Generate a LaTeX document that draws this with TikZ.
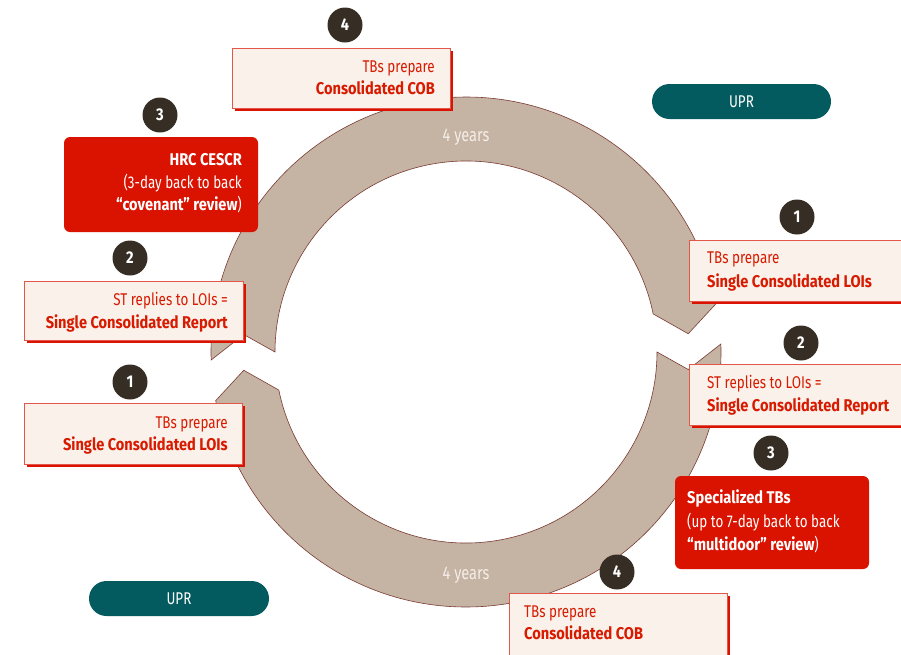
\documentclass[tikz,border=0pt]{standalone}
\usepackage{fontspec}
\setmainfont{Fira Sans}[UprightFeatures={FakeStretch=0.79}, BoldFeatures={FakeStretch=0.86}]
\usetikzlibrary{shadows}
\definecolor{bandfill}{HTML}{C5B3A3}
\definecolor{bandline}{HTML}{7B3B33}
\definecolor{cream}{HTML}{FAF1EA}
\definecolor{textred}{HTML}{D71A00}
\definecolor{boxred}{HTML}{DA1200}
\definecolor{boxedge}{HTML}{E2574A}
\definecolor{teal}{HTML}{045B5F}
\definecolor{numdark}{HTML}{362E24}
\definecolor{yrs}{HTML}{F5EEE8}
\begin{document}
\begin{tikzpicture}[x=1pt,y=1pt,
  bandstyle/.style={fill=bandfill, draw=bandline, line width=0.6pt},
  cbox/.style={draw=boxedge, line width=0.8pt, fill=cream, inner sep=0pt,
    drop shadow={shadow xshift=3pt, shadow yshift=-3pt, fill=boxred, opacity=1}},
  rbox/.style={fill=boxred, rounded corners=6pt, inner sep=0pt},
  pill/.style={fill=teal, rounded corners=17.5pt, inner sep=0pt, text=white,
    font=\fontsize{17}{20}\selectfont},
  num/.style={circle, fill=numdark, minimum size=35pt, inner sep=0pt, text=white,
    font=\bfseries\fontsize{17}{20}\selectfont},
  lr/.style={inner sep=0pt, text=textred, font=\fontsize{17}{20}\selectfont},
  lb/.style={inner sep=0pt, text=textred, font=\bfseries\fontsize{17}{20}\selectfont},
  wr/.style={inner sep=0pt, text=white, font=\fontsize{17}{20}\selectfont},
  yrlabel/.style={inner sep=0pt, text=yrs, font=\fontsize{18.5}{20}\selectfont}]
\useasboundingbox (0,0) rectangle (901,-654);
\clip (0,0) rectangle (901,-654);

% circular arrows
\begin{scope}[shift={(466,-352)}]
\draw[bandstyle] (181.8:255) arc[start angle=181.8, end angle=11, radius=255]
  -- (4.7:223) -- (11.5:191) arc[start angle=11.5, end angle=180, radius=191]
  -- (175.5:223) -- cycle;
\draw[bandstyle] (1.8:255) arc[start angle=1.8, end angle=-169, radius=255]
  -- (-175.3:223) -- (-168.5:191) arc[start angle=-168.5, end angle=0, radius=191]
  -- (-4.5:223) -- cycle;
\end{scope}
\node[yrlabel, anchor=base] (yt) at (466,-141) {4 years};
\node[yrlabel, anchor=base] (yb) at (466,-579) {4 years};

% UPR pills
\node[pill, minimum width=179pt, minimum height=35pt] (upr1) at (741.5,-101.5) {UPR};
\node[pill, minimum width=180pt, minimum height=35pt] (upr2) at (179,-598.5) {UPR};

% top: 4 COB
\node[num] (n4t) at (345,-25) {4};
\node[cbox, minimum width=218pt, minimum height=60pt] (b4t) at (341,-78) {};
\node[lr, anchor=base east] (b4t1) at (435,-72) {TBs prepare};
\node[lb, anchor=base east] (b4t2) at (435,-94) {Consolidated COB};

% left: 3 HRC
\node[num] (n3l) at (160,-115) {3};
\node[rbox, minimum width=194pt, minimum height=95pt] (b3l) at (161,-184.5) {};
\node[wr, anchor=base east, font=\bfseries\fontsize{17}{20}\selectfont] (b3l1) at (242,-165) {HRC CESCR};
\node[wr, anchor=base east] (b3l2) at (242,-188) {(3-day back to back};
\node[wr, anchor=base east] (b3l3) at (242,-210) {\textbf{“covenant” review})};

% left: 2 ST
\node[num] (n2l) at (130,-258) {2};
\node[cbox, minimum width=219pt, minimum height=59pt] (b2l) at (133.5,-310.5) {};
\node[lr, anchor=base east] (b2l1) at (228,-305) {ST replies to LOIs =};
\node[lb, anchor=base east] (b2l2) at (228,-328) {Single Consolidated Report};

% left: 1 TB
\node[num] (n1l) at (130,-382) {1};
\node[cbox, minimum width=218pt, minimum height=61pt] (b1l) at (133,-433.5) {};
\node[lr, anchor=base east] (b1l1) at (228,-428) {TBs prepare};
\node[lb, anchor=base east] (b1l2) at (228,-450) {Single Consolidated LOIs};

% right: 1 TB
\node[num] (n1r) at (797,-217) {1};
\node[cbox, minimum width=226pt, minimum height=61pt] (b1r) at (802,-270.5) {};
\node[lr, anchor=base west] (b1r1) at (707,-263) {TBs prepare};
\node[lb, anchor=base west] (b1r2) at (707,-287) {Single Consolidated LOIs};

% right: 2 ST
\node[num] (n2r) at (801,-343) {2};
\node[cbox, minimum width=226pt, minimum height=61pt] (b2r) at (802,-394.5) {};
\node[lr, anchor=base west] (b2r1) at (707,-388) {ST replies to LOIs =};
\node[lb, anchor=base west] (b2r2) at (707,-411) {Single Consolidated Report};

% right: 3 specialized
\node[num] (n3r) at (771,-453) {3};
\node[rbox, minimum width=194pt, minimum height=93pt] (b3r) at (772,-522.5) {};
\node[wr, anchor=base west, font=\bfseries\fontsize{17}{20}\selectfont] (b3r1) at (687,-503) {Specialized TBs};
\node[wr, anchor=base west] (b3r2) at (687,-527) {(up to 7-day back to back};
\node[wr, anchor=base west] (b3r3) at (687,-550) {\textbf{“multidoor” review})};

% bottom: 4 COB
\node[num] (n4b) at (617,-572) {4};
\node[cbox, minimum width=218pt, minimum height=77pt] (b4b) at (618,-631.5) {};
\node[lr, anchor=base west] (b4b1) at (524,-617) {TBs prepare};
\node[lb, anchor=base west] (b4b2) at (524,-639) {Consolidated COB};
\end{tikzpicture}
\end{document}
